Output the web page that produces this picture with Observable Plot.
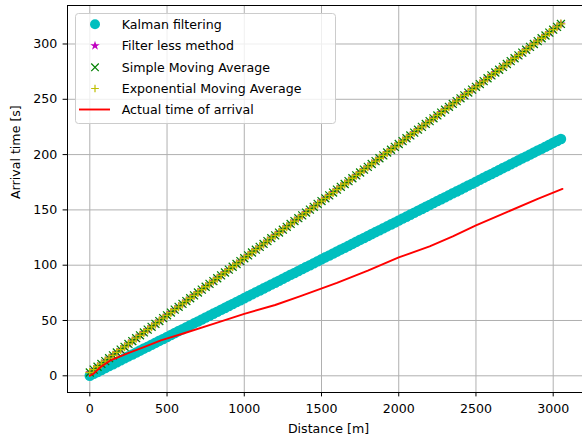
<!DOCTYPE html>
<html>
<head>
<meta charset="utf-8">
<script src="https://cdn.jsdelivr.net/npm/d3@7"></script>
<script src="https://cdn.jsdelivr.net/npm/@observablehq/plot@0.6"></script>
<style>
  html, body { margin: 0; padding: 0; background: #fff; overflow: hidden; }
  #wrap { position: relative; width: 582px; height: 438px; overflow: hidden; }
  #chart svg { max-width: none !important; width: 590px !important; height: 438px !important; }
  #legend { position: absolute; left: 0; top: 0; }
</style>
</head>
<body>
<div id="wrap"><div id="chart"></div><svg id="legend" width="582" height="438"></svg></div>
<script>
// ---- data ----
const distance = [0,25,50,75,100,125,150,175,200,225,250,275,300,325,350,375,400,425,450,475,500,525,550,575,600,625,650,675,700,725,750,775,800,825,850,875,900,925,950,975,1000,1025,1050,1075,1100,1125,1150,1175,1200,1225,1250,1275,1300,1325,1350,1375,1400,1425,1450,1475,1500,1525,1550,1575,1600,1625,1650,1675,1700,1725,1750,1775,1800,1825,1850,1875,1900,1925,1950,1975,2000,2025,2050,2075,2100,2125,2150,2175,2200,2225,2250,2275,2300,2325,2350,2375,2400,2425,2450,2475,2500,2525,2550,2575,2600,2625,2650,2675,2700,2725,2750,2775,2800,2825,2850,2875,2900,2925,2950,2975,3000,3025,3050];

const kalmanTimes = [0,1.8,3.5,5.3,7.0,8.8,10.5,12.3,14.0,15.8,17.6,19.3,21.1,22.8,24.6,26.3,28.1,29.8,31.6,33.3,35.1,36.9,38.6,40.4,42.1,43.9,45.6,47.4,49.1,50.9,52.7,54.4,56.2,57.9,59.7,61.4,63.2,64.9,66.7,68.4,70.2,72.0,73.7,75.5,77.2,79.0,80.7,82.5,84.2,86.0,87.8,89.5,91.3,93.0,94.8,96.5,98.3,100.0,101.8,103.5,105.3,107.1,108.8,110.6,112.3,114.1,115.8,117.6,119.3,121.1,122.9,124.6,126.4,128.1,129.9,131.6,133.4,135.1,136.9,138.6,140.4,142.2,143.9,145.7,147.4,149.2,150.9,152.7,154.4,156.2,158.0,159.7,161.5,163.2,165.0,166.7,168.5,170.2,172.0,173.7,175.5,177.3,179.0,180.8,182.5,184.3,186.0,187.8,189.5,191.3,193.1,194.8,196.6,198.3,200.1,201.8,203.6,205.3,207.1,208.8,210.6,212.4,214.1];

const filterLessTimes = [3.0,5.6,8.2,10.7,13.3,15.9,18.5,21.1,23.7,26.2,28.8,31.4,34.0,36.6,39.2,41.7,44.3,46.9,49.5,52.1,54.7,57.2,59.8,62.4,65.0,67.6,70.1,72.7,75.3,77.9,80.5,83.1,85.6,88.2,90.8,93.4,96.0,98.6,101.1,103.7,106.3,108.9,111.5,114.0,116.6,119.2,121.8,124.4,127.0,129.5,132.1,134.7,137.3,139.9,142.5,145.0,147.6,150.2,152.8,155.4,158.0,160.5,163.1,165.7,168.3,170.9,173.4,176.0,178.6,181.2,183.8,186.4,188.9,191.5,194.1,196.7,199.3,201.9,204.4,207.0,209.6,212.2,214.8,217.3,219.9,222.5,225.1,227.7,230.3,232.8,235.4,238.0,240.6,243.2,245.8,248.3,250.9,253.5,256.1,258.7,261.3,263.8,266.4,269.0,271.6,274.2,276.7,279.3,281.9,284.5,287.1,289.7,292.2,294.8,297.4,300.0,302.6,305.2,307.7,310.3,312.9,315.5,318.1];

const smaTimes = [3.0,5.6,8.2,10.7,13.3,15.9,18.5,21.1,23.7,26.2,28.8,31.4,34.0,36.6,39.2,41.7,44.3,46.9,49.5,52.1,54.7,57.2,59.8,62.4,65.0,67.6,70.1,72.7,75.3,77.9,80.5,83.1,85.6,88.2,90.8,93.4,96.0,98.6,101.1,103.7,106.3,108.9,111.5,114.0,116.6,119.2,121.8,124.4,127.0,129.5,132.1,134.7,137.3,139.9,142.5,145.0,147.6,150.2,152.8,155.4,158.0,160.5,163.1,165.7,168.3,170.9,173.4,176.0,178.6,181.2,183.8,186.4,188.9,191.5,194.1,196.7,199.3,201.9,204.4,207.0,209.6,212.2,214.8,217.3,219.9,222.5,225.1,227.7,230.3,232.8,235.4,238.0,240.6,243.2,245.8,248.3,250.9,253.5,256.1,258.7,261.3,263.8,266.4,269.0,271.6,274.2,276.7,279.3,281.9,284.5,287.1,289.7,292.2,294.8,297.4,300.0,302.6,305.2,307.7,310.3,312.9,315.5,318.1];

const emaTimes = [3.0,5.6,8.2,10.7,13.3,15.9,18.5,21.1,23.7,26.2,28.8,31.4,34.0,36.6,39.2,41.7,44.3,46.9,49.5,52.1,54.7,57.2,59.8,62.4,65.0,67.6,70.1,72.7,75.3,77.9,80.5,83.1,85.6,88.2,90.8,93.4,96.0,98.6,101.1,103.7,106.3,108.9,111.5,114.0,116.6,119.2,121.8,124.4,127.0,129.5,132.1,134.7,137.3,139.9,142.5,145.0,147.6,150.2,152.8,155.4,158.0,160.5,163.1,165.7,168.3,170.9,173.4,176.0,178.6,181.2,183.8,186.4,188.9,191.5,194.1,196.7,199.3,201.9,204.4,207.0,209.6,212.2,214.8,217.3,219.9,222.5,225.1,227.7,230.3,232.8,235.4,238.0,240.6,243.2,245.8,248.3,250.9,253.5,256.1,258.7,261.3,263.8,266.4,269.0,271.6,274.2,276.7,279.3,281.9,284.5,287.1,289.7,292.2,294.8,297.4,300.0,302.6,305.2,307.7,310.3,312.9,315.5,318.1];

const actualDistance = [0,25,70,135,240,350,460,600,800,1000,1200,1364,1600,1800,2000,2200,2350,2500,2700,2900,3060];
const actualTimes = [0,2,8,14,20,26,32,38,47,56,64,72,84,95,107,117,126,136,148,160,169];

const xTicks = [0,500,1000,1500,2000,2500,3000];
const yTicks = [0,50,100,150,200,250,300];

const seriesNames = ["Kalman filtering","Filter less method","Simple Moving Average","Exponential Moving Average","Actual time of arrival"];
const xLabel = "Distance [m]";
const yLabel = "Arrival time [s]";

// ---- build tables ----
const toRows = (xs, ys) => xs.map((d, i) => ({d, t: ys[i]}));
const kalman = toRows(distance, kalmanTimes);
const filterLess = toRows(distance, filterLessTimes);
const sma = toRows(distance, smaTimes);
const ema = toRows(distance, emaTimes);
const actual = toRows(actualDistance, actualTimes);

const FS = 12.6;
const chart = Plot.plot({
  width: 590,
  height: 438,
  marginLeft: 67,
  marginRight: 1,
  marginTop: 5,
  marginBottom: 46,
  style: {fontFamily: "'DejaVu Sans', sans-serif", fontSize: FS + "px", background: "white", color: "black", maxWidth: "none"},
  x: {domain: [-144.4, 3235]},
  y: {domain: [-15.1, 334.8]},
  marks: [
    Plot.ruleX(xTicks, {x: d => d, stroke: "#b0b0b0", strokeWidth: 1}),
    Plot.ruleY(yTicks, {y: d => d, stroke: "#b0b0b0", strokeWidth: 1}),
    Plot.dot(kalman, {x: "d", y: "t", r: 5.3, fill: "#00bfbf", stroke: null}),
    Plot.dot(filterLess, {x: "d", y: "t", symbol: "star", r: 2.8, fill: "#bf00bf", stroke: null}),
    Plot.dot(sma, {x: "d", y: "t", symbol: "times", r: 3.7, fill: "none", stroke: "#008000", strokeWidth: 1.2}),
    Plot.dot(ema, {x: "d", y: "t", symbol: "plus", r: 3.0, fill: "none", stroke: "#bfbf00", strokeWidth: 1.3}),
    Plot.line(actual, {x: "d", y: "t", stroke: "#ff0000", strokeWidth: 1.9}),
    Plot.frame({stroke: "black", strokeWidth: 1}),
    Plot.axisX({ticks: xTicks, tickFormat: "d", tickSize: 4.4, tickPadding: 7.5, fontSize: FS, label: null}),
    Plot.axisY({ticks: yTicks, tickFormat: "d", tickSize: 4.4, tickPadding: 5.9, fontSize: FS, label: null}),
    Plot.text([xLabel], {text: d => d, frameAnchor: "bottom", dy: 36, fontSize: FS, lineAnchor: "middle"}),
    Plot.text([yLabel], {text: d => d, frameAnchor: "left", dx: -51.7, rotate: -90, fontSize: FS, lineAnchor: "middle"})
  ]
});
document.getElementById("chart").appendChild(chart);

// ---- legend (drawn as an overlay, real text) ----
const lg = d3.select("#legend");
const box = {x: 75, y: 13, w: 260, h: 110};
lg.append("rect").attr("x", box.x + 0.5).attr("y", box.y + 0.5).attr("width", box.w).attr("height", box.h)
  .attr("rx", 3).attr("fill", "white").attr("fill-opacity", 0.8).attr("stroke", "#cccccc").attr("stroke-width", 1);
const rowY = [24.3, 45.7, 67.3, 88.5, 109.5];
const mx = 95, tx = 121.7;
const sym = (type, size) => d3.symbol(type, size)();
lg.append("circle").attr("cx", mx).attr("cy", rowY[0]).attr("r", 5).attr("fill", "#00bfbf");
lg.append("path").attr("d", sym(d3.symbolStar, Math.PI * 3 * 3)).attr("transform", `translate(${mx},${rowY[1]})`).attr("fill", "#bf00bf");
lg.append("path").attr("d", sym(d3.symbolTimes, Math.PI * 3.5 * 3.5)).attr("transform", `translate(${mx},${rowY[2]})`).attr("fill", "none").attr("stroke", "#008000").attr("stroke-width", 1.2);
lg.append("path").attr("d", sym(d3.symbolPlus, Math.PI * 2.6 * 2.6)).attr("transform", `translate(${mx},${rowY[3]})`).attr("fill", "none").attr("stroke", "#bfbf00").attr("stroke-width", 1.2);
lg.append("line").attr("x1", 79).attr("x2", 110).attr("y1", rowY[4]).attr("y2", rowY[4]).attr("stroke", "#ff0000").attr("stroke-width", 1.9);
seriesNames.forEach((name, i) => {
  lg.append("text").attr("x", tx).attr("y", rowY[i] + 4.6).attr("font-family", "'DejaVu Sans', sans-serif")
    .attr("font-size", FS).attr("fill", "black").text(name);
});
</script>
</body>
</html>
